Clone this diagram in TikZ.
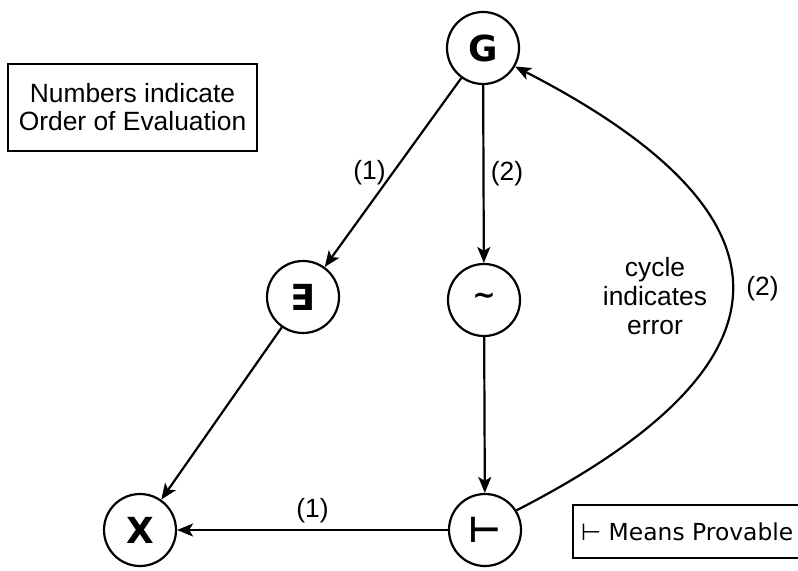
\documentclass[tikz,border=0pt]{standalone}
\usepackage{fontspec}
\setmainfont{Liberation Sans}
\newfontfamily\symfont{DejaVu Sans}
\usetikzlibrary{arrows.meta}

\tikzset{
  opnode/.style={draw, circle, line width=2.2bp, minimum size=72bp, inner sep=0pt,
    font=\symfont\bfseries\fontsize{36}{40}\selectfont},
  notebox/.style={draw, line width=2.2bp, inner sep=0pt, align=center},
  flow/.style={line width=2.2bp, -{Stealth[length=16bp, width=13bp, inset=4bp]}},
  lbl/.style={font=\fontsize{26.5}{30}\selectfont}
}

\begin{document}
\begin{tikzpicture}[x=1bp, y=-1bp]
    \useasboundingbox (0,0) rectangle (798,571);
    % operator nodes
    \node[opnode] (goal)   at (483,48)  {G};
    \node[opnode] (exists) at (303,297) {∃};
    \node[opnode] (neg)    at (484,300) {\fontsize{28}{30}\selectfont\raisebox{0.12em}{\textasciitilde}};
    \node[opnode] (var)    at (140,530) {X};
    \node[opnode] (prov)   at (485,530) {⊢};
    % notes
    \node[notebox, lbl, minimum width=249bp, minimum height=87bp] (order-note)
      at (132.5,107.5) {Numbers indicate\\[-2bp]Order of Evaluation};
    \node[notebox, minimum width=236bp, minimum height=53bp, anchor=west,
      font=\symfont\fontsize{23.5}{28}\selectfont] (prov-note)
      at (572,531.5) {\hspace*{-8bp}⊢ Means Provable};
    % edges
    \draw[flow] (goal) -- node[lbl, left=3bp] {(1)} (exists);
    \draw[flow] (goal) -- node[lbl, right=3bp] {(2)} (neg);
    \draw[flow] (exists) -- (var);
    \draw[flow] (neg) -- (prov);
    \draw[flow] (prov) -- node[lbl, above=3bp] {(1)} (var);
    % cycle back to G
    \draw[flow] (prov.32) .. controls (804,363) and (804,215) ..
      node[lbl, pos=0.5, right=10bp] {(2)} (goal.-30);
    \node[lbl, align=center] (cycle-note) at (655,296)
      {cycle\\[-1bp]indicates\\[-1bp]error};
\end{tikzpicture}
\end{document}
